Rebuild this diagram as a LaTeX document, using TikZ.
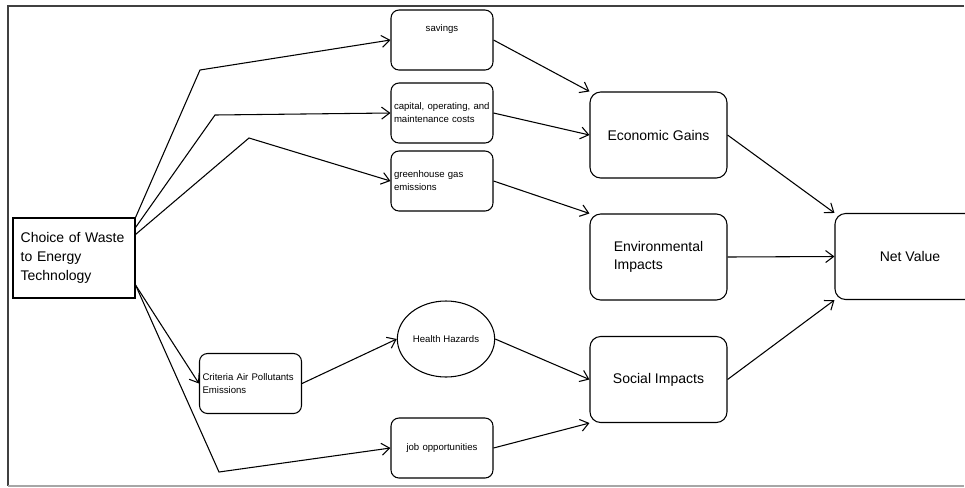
\documentclass[tikz,border=0pt]{standalone}
\usepackage{fontspec}
\setmainfont{Liberation Sans}
\usetikzlibrary{arrows.meta,calc,shapes.geometric}

\begin{document}
\begin{tikzpicture}[x=0.75pt,y=-0.75pt,font=\fontsize{10.5}{14}\selectfont,
  sq/.style={rectangle,draw,line width=0.8pt,minimum width=91.5pt,minimum height=60pt,text width=80pt,align=left,inner sep=2pt},
  sm/.style={rectangle,rounded corners=6pt,draw,line width=0.8pt,minimum width=76.5pt,minimum height=45pt,text width=72pt,align=left,inner sep=2pt,font=\fontsize{7.2}{9.75}\selectfont},
  hz/.style={ellipse,draw,line width=0.8pt,minimum width=70.5pt,minimum height=57pt,inner sep=1pt,font=\fontsize{7.2}{9.75}\selectfont},
  bg/.style={rectangle,rounded corners=8pt,draw,line width=0.8pt,minimum width=102.75pt,minimum height=64.5pt,align=left,inner sep=2pt},
  ar/.style={-{Straight Barb[length=6pt,width=9pt]},line width=0.8pt}]
  \useasboundingbox (0,0) rectangle (965,487);
  \clip (0,0) rectangle (965,487);
  \draw[line width=0.9pt,black!75] (964,6) -- (8,6) -- (8,486);
  \draw[line width=0.9pt,black!35] (8,486) -- (964,486);
  \node[sq] (choice) at (74,258) {Choice of Waste\\to Energy\\Technology};
  \node[sm,align=center,text depth=18pt] (sav) at (442,40) {savings};
  \node[sm] (cap) at (442,113) {capital, operating, and\\maintenance costs};
  \node[sm] (gh) at (442,181) {greenhouse gas\\emissions};
  \node[sm] (crit) at (250.5,383.5) {Criteria Air Pollutants\\Emissions};
  \node[hz] (hh) at (446,339) {Health Hazards};
  \node[sm,align=center] (job) at (442,448) {job opportunities};
  \node[bg] (eco) at (658.5,135) {Economic Gains};
  \node[bg] (env) at (658.5,257) {Environmental\\Impacts};
  \node[bg] (soc) at (658.5,379.5) {Social Impacts};
  \node[bg,minimum width=112.5pt] (net) at (910,256.5) {Net Value};
  \draw[ar] (choice.north east) -- (200,70) -- (sav.west);
  \draw[ar] ($(choice.north east)+(0,10)$) -- (215,115) -- (cap.west);
  \draw[ar] ($(choice.north east)+(0,17)$) -- (249,138) -- (gh.west);
  \draw[ar] ($(choice.east)+(0,27)$) -- (crit.west);
  \draw[ar] ($(choice.east)+(0,27)$) -- (219,472) -- (job.west);
  \draw[ar] (crit.east) -- (hh.west);
  \draw[ar] (hh.east) -- (soc.west);
  \draw[ar] (job.east) -- (soc.south west);
  \draw[ar] (sav.east) -- (eco.north west);
  \draw[ar] (cap.east) -- (eco.west);
  \draw[ar] (gh.east) -- (env.north west);
  \draw[ar] (eco.east) -- (net.north west);
  \draw[ar] (env.east) -- (net.west);
  \draw[ar] (soc.east) -- (net.south west);
\end{tikzpicture}
\end{document}
